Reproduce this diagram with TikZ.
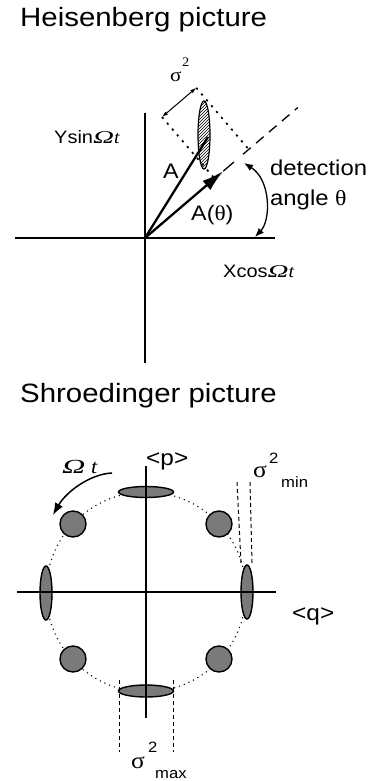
\documentclass[tikz,border=0pt]{standalone}
\usepackage{graphicx}
\usepackage{fontspec}
\setmainfont[FakeStretch=1.11]{Liberation Sans}
\newfontfamily\serifsym[FakeStretch=1.11]{Liberation Serif}
\usetikzlibrary{arrows.meta,patterns,shapes.geometric}
\newcommand\Omt{{\serifsym\itshape\scalebox{1.45}[1]{Ω}t}}
\newcommand\fs[1]{\fontsize{#1}{#1}\selectfont}
\begin{document}
\begin{tikzpicture}[x=1pt,y=-1pt,
  lab/.style={inner sep=0pt, anchor=base west},
  axis/.style={line width=2.3pt},
  vec/.style={line width=2.3pt},
  blob/.style={draw=black, line width=1.4pt, fill=black!52, inner sep=0pt, outer sep=0pt},
  dots/.style={line width=1.7pt, dash pattern=on 2.2pt off 5.5pt},
  fine/.style={line width=1pt, dash pattern=on 4pt off 3pt},
  circdots/.style={line width=1.1pt, dash pattern=on 1.1pt off 4pt},
]
\useasboundingbox (0,0) rectangle (373,781);

% ---------------- Heisenberg picture ----------------
\node[lab, font=\fs{26.5}] (ht) at (20,26.7) {Heisenberg picture};
\coordinate (O) at (145,238);
\coordinate (xl) at (15,238); \coordinate (xr) at (275,238);
\coordinate (yt) at (145,113); \coordinate (yb) at (145,363);
\draw[axis] (xl) -- (xr);
\draw[axis] (yt) -- (yb);

\coordinate (P1) at (162,117);
\coordinate (P2) at (196.2,87.8);
\coordinate (F1) at (214.6,178.6);
\coordinate (F2) at (248.8,149.4);
\coordinate (T) at (223.3,171.1);
\coordinate (S1) at (234.0,162.0);
\coordinate (D1) at (243.1,154.2);
\coordinate (E) at (297.8,107.5);
\coordinate (Aend) at (208,137);

\draw[dots] (P1) -- (F1);
\draw[dots] (P2) -- (F2);
\draw[line width=1pt, {Latex[length=6pt,width=4pt]}-{Latex[length=6pt,width=4pt]}] (P1) -- (P2);

\node[draw, line width=1.2pt, pattern=north east lines, ellipse,
      minimum width=12pt, minimum height=68pt, inner sep=0pt] (he) at (204,135) {};

\draw[vec] (O) -- (Aend);
\draw[vec, -{Latex[length=22pt,width=12pt]}] (O) -- (T);
\draw[line width=1.3pt] (T) -- (S1);
\draw[line width=1.3pt, dash pattern=on 10pt off 7pt] (D1) -- (E);

\coordinate (ar1) at (244,163);
\coordinate (ar2) at (255,237);
\draw[line width=1.3pt, {Latex[length=9pt,width=7pt]}-{Latex[length=9pt,width=7pt]}]
  (ar1) .. controls (271,180) and (271,220) .. (ar2);

\node[lab, font=\fs{19}\serifsym] (sg1) at (170,82) {σ};
\node[lab, font=\fs{13}\serifsym] (sg1e) at (182,67) {2};
\node[lab, font=\fs{18}] (ylab) at (54,143) {Ysin\Omt};
\node[lab, font=\fs{21}] (alab) at (163,178) {A};
\node[lab, font=\fs{21}] (athlab) at (191,220) {A({\serifsym θ})};
\node[lab, font=\fs{21.5}] (det) at (270,175) {detection};
\node[lab, font=\fs{21.5}] (ang) at (270,205) {angle {\serifsym θ}};
\node[lab, font=\fs{18}] (xlab) at (223,277) {Xcos\Omt};

% ---------------- Shroedinger picture ----------------
\node[lab, font=\fs{26.5}] (st) at (20,402.5) {Shroedinger picture};
\coordinate (C) at (146,592);
\draw[circdots] (C) circle[radius=100];

\node[blob, ellipse, minimum width=55pt, minimum height=11pt] (bt) at (146,492) {};
\node[blob, ellipse, minimum width=55pt, minimum height=12pt] (bb) at (146,691) {};
\node[blob, ellipse, minimum width=12pt, minimum height=54pt] (br) at (247,592) {};
\node[blob, ellipse, minimum width=12pt, minimum height=54pt] (bl) at (46,593) {};
\node[blob, circle, minimum size=26pt] (c1) at (73,524) {};
\node[blob, circle, minimum size=26pt] (c2) at (219,524) {};
\node[blob, circle, minimum size=26pt] (c3) at (73,659) {};
\node[blob, circle, minimum size=26pt] (c4) at (219,659) {};

\coordinate (qxl) at (17,592); \coordinate (qxr) at (276,592);
\coordinate (pyt) at (146,466); \coordinate (pyb) at (146,718);
\draw[axis] (qxl) -- (qxr);
\draw[axis] (pyt) -- (pyb);

\coordinate (w1) at (112,473); \coordinate (w2) at (53,515);
\draw[line width=1.5pt, -{Latex[length=12pt,width=9pt]}] (w1) .. controls (90,474) and (66,492) .. (w2);

\coordinate (m1a) at (237,482); \coordinate (m1b) at (241,563);
\coordinate (m2a) at (250,482); \coordinate (m2b) at (252,563);
\draw[fine] (m1a) -- (m1b);
\draw[fine] (m2a) -- (m2b);
\coordinate (x1a) at (119,680); \coordinate (x1b) at (119,752);
\coordinate (x2a) at (173,680); \coordinate (x2b) at (173,752);
\draw[fine] (x1a) -- (x1b);
\draw[fine] (x2a) -- (x2b);

\node[lab, font=\fs{20}\serifsym\itshape] (omt) at (62,473) {\scalebox{1.45}[1]{Ω} t};
\node[lab, font=\fs{22}] (plab) at (146,465) {<p>};
\node[lab, font=\fs{22}] (qlab) at (292,620) {<q>};
\node[lab, font=\fs{23}\serifsym] (smin) at (253,477) {σ};
\node[lab, font=\fs{15}] (smine) at (269,463) {2};
\node[lab, font=\fs{15}] (minlab) at (281,487) {min};
\node[lab, font=\fs{23}\serifsym] (smax) at (131,768) {σ};
\node[lab, font=\fs{15}] (smaxe) at (148,752) {2};
\node[lab, font=\fs{15}] (maxlab) at (155,778) {max};
\end{tikzpicture}
\end{document}
